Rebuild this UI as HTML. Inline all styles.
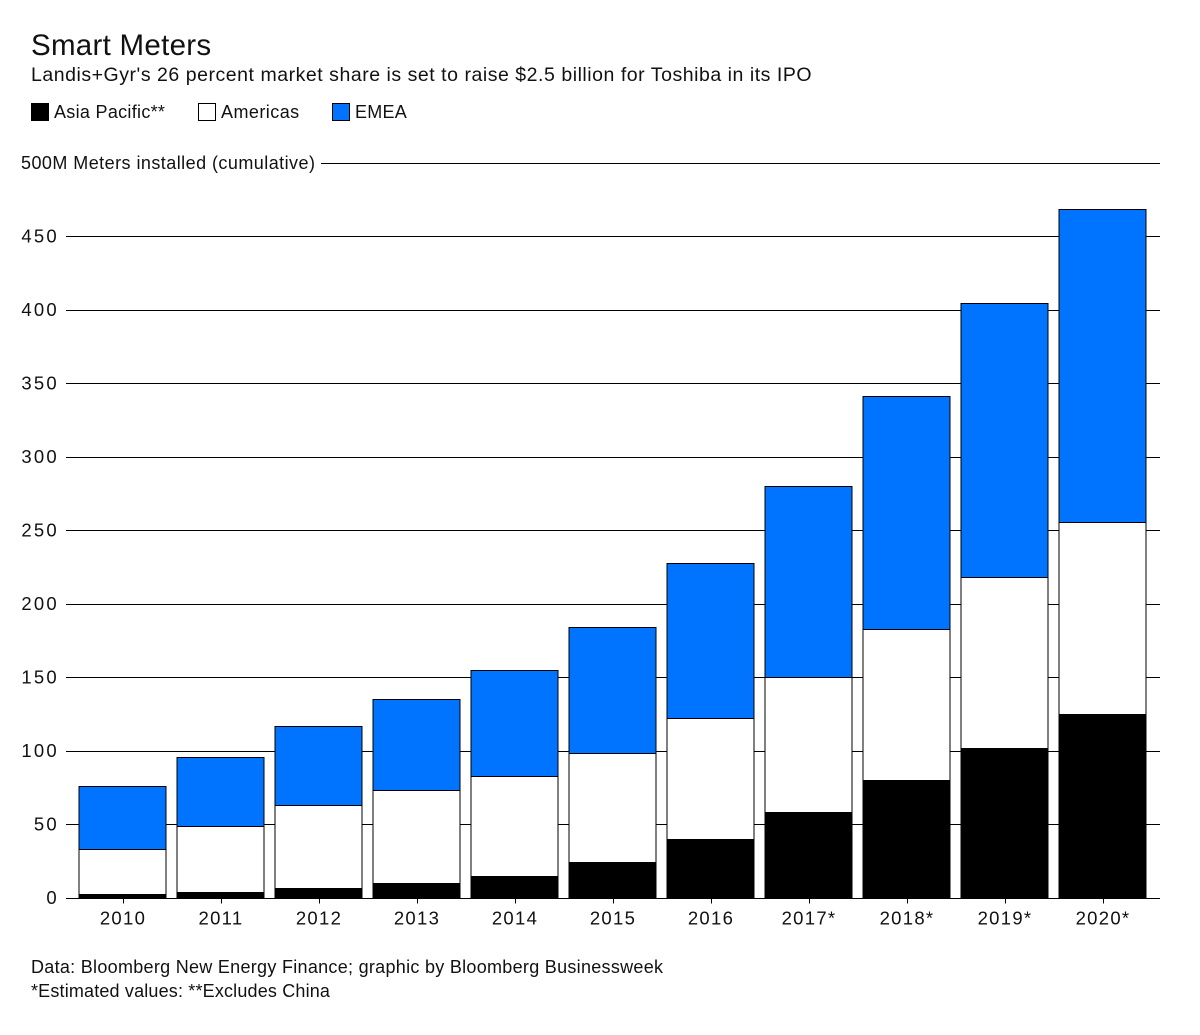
<!DOCTYPE html>
<html lang="en">
<head>
<meta charset="utf-8">
<title>Smart Meters</title>
<style>
html,body{margin:0;padding:0;background:#fff;}
#chart{display:block;}
text{font-family:"Liberation Sans",sans-serif;fill:#111;}
</style>
</head>
<body>
<svg id="chart" width="1200" height="1035" viewBox="0 0 1200 1035" xmlns="http://www.w3.org/2000/svg">
  <rect x="0" y="0" width="1200" height="1035" fill="#ffffff"/>
  <text x="31" y="55" font-size="29.5" letter-spacing="0.28">Smart Meters</text>
  <text x="31" y="81" font-size="19.5" letter-spacing="0.53">Landis+Gyr's 26 percent market share is set to raise $2.5 billion for Toshiba in its IPO</text>

  <g>
    <rect x="31" y="103" width="18" height="18" fill="#000000"/>
    <text x="54" y="118" font-size="18" letter-spacing="0.3">Asia Pacific**</text>
    <rect x="198.5" y="103.5" width="17" height="17" fill="#ffffff" stroke="#000" stroke-width="1"/>
    <text x="221" y="118" font-size="18" letter-spacing="0.45">Americas</text>
    <rect x="332.5" y="103.5" width="17" height="17" fill="#0073ff" stroke="#000" stroke-width="1"/>
    <text x="355" y="118" font-size="18" letter-spacing="0.25">EMEA</text>
  </g>

  <g id="grid"></g>
  <g id="bars"></g>
  <g id="xaxis"></g>

  <text x="31" y="973" font-size="18" letter-spacing="0.29">Data: Bloomberg New Energy Finance; graphic by Bloomberg Businessweek</text>
  <text x="31" y="997" font-size="18" letter-spacing="0.17">*Estimated values: **Excludes China</text>
</svg>
<script>
const categories = ['2010','2011','2012','2013','2014','2015','2016','2017*','2018*','2019*','2020*'];
const asiaPacific = [2.7,4,6.8,10,15,24,40,58,80,102,125];
const americas = [30.3,45,56.2,63,68,74.5,82,92,103,116,130.5];
const emea = [43,47,54,62,72,85.5,106,130,158,186.5,213];
const yTicks = [0,50,100,150,200,250,300,350,400,450,500];

const NS = 'http://www.w3.org/2000/svg';
const y = v => 898 - v * 1.47;
const xCenter = i => 122.5 + i * 98;
const BAR_W = 87;
const snap = p => Math.round(p - 0.5) + 0.5;

function make(tag, attrs, parent) {
  const el = document.createElementNS(NS, tag);
  for (const k in attrs) el.setAttribute(k, attrs[k]);
  parent.appendChild(el);
  return el;
}

const grid = document.getElementById('grid');
yTicks.forEach(t => {
  const isTop = t === 500;
  const gy = snap(y(t));
  const line = make('line', {x1: isTop ? 321 : 66, x2: 1160, y1: gy, y2: gy, stroke: '#000', 'stroke-width': 1}, grid);
  
  
  const label = make('text', {x: 58.9, y: y(t) + 6, 'text-anchor': isTop ? 'start' : 'end', 'font-size': 18.5, 'letter-spacing': 2.2}, grid);
  if (isTop) {
    label.setAttribute('x', 21);
    label.setAttribute('font-size', 18);
    label.setAttribute('letter-spacing', 0.45);
    label.textContent = '500M Meters installed (cumulative)';
  } else {
    label.textContent = String(t);
  }
  
  
});

const bars = document.getElementById('bars');
const seriesList = [
  {name: 'asia-pacific', values: asiaPacific, fill: '#000000'},
  {name: 'americas', values: americas, fill: '#ffffff'},
  {name: 'emea', values: emea, fill: '#0073ff'}
];
categories.forEach((cat, i) => {
  let base = 0;
  const left = xCenter(i) - BAR_W / 2;
  const right = left + BAR_W;
  seriesList.forEach(s => {
    const top = base + s.values[i];
    const yTop = Math.round(y(top) - 0.3);
    const yBase = base === 0 ? 898 : Math.round(y(base) - 0.3);
    const r = make('rect', {x: left, y: yTop, width: BAR_W, height: yBase - yTop, fill: s.fill}, bars);
    
    
    const sideL = make('line', {x1: left, x2: left, y1: yTop, y2: yBase, stroke: '#000', 'stroke-width': 1}, bars);
    
    
    const sideR = make('line', {x1: right, x2: right, y1: yTop, y2: yBase, stroke: '#000', 'stroke-width': 1}, bars);
    
    
    const cap = make('line', {x1: left - 0.5, x2: right + 0.5, y1: yTop + 0.5, y2: yTop + 0.5, stroke: '#000', 'stroke-width': 1}, bars);
    
    
    base = top;
  });
});

const xaxis = document.getElementById('xaxis');
const baseLine = make('line', {x1: 66, x2: 1160, y1: 898.5, y2: 898.5, stroke: '#000', 'stroke-width': 1}, xaxis);


categories.forEach((cat, i) => {
  const tx = snap(xCenter(i)) + 1;
  const tick = make('line', {x1: tx, x2: tx, y1: 898, y2: 903.5, stroke: '#000', 'stroke-width': 1}, xaxis);
  
  
  const label = make('text', {x: xCenter(i) + 0.5, y: 924.5, 'text-anchor': 'middle', 'font-size': 18.5, 'letter-spacing': 1.3}, xaxis);
  label.textContent = cat;
  
  
});
</script>
</body>
</html>
